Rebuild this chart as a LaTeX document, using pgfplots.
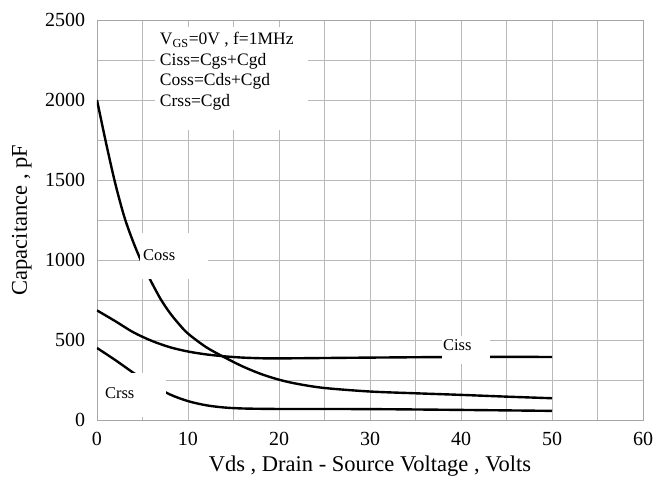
\documentclass[border=0pt]{standalone}
\usepackage{fontspec}
\setmainfont{Liberation Serif}
\usepackage{pgfplots}
\pgfplotsset{compat=1.18}

\begin{document}
\fontsize{20bp}{22bp}\selectfont
\begin{tikzpicture}
\path[use as bounding box] (-97bp,-73bp) rectangle (561bp,420bp);
\begin{axis}[
    scale only axis,
    width=546bp, height=400bp,
    at={(0,0)}, anchor=south west,
    xmin=0, xmax=60, ymin=0, ymax=2500,
    xtick={0,10,...,60}, minor xtick={5,15,...,55},
    ytick={0,500,...,2500}, minor ytick={250,750,...,2250},
    grid=both,
    grid style={gray!55, line width=0.6pt},
    minor grid style={gray!55, line width=0.6pt},
    axis line style={gray!70, line width=0.7pt},
    major tick length=0pt, minor tick length=0pt,
    /pgf/number format/1000 sep={},
    /pgf/number format/assume math mode=true,
    tick label style={font=\fontsize{20bp}{22bp}\selectfont},
    label style={font=\fontsize{22.5bp}{24bp}\selectfont},
    xticklabel style={yshift=-5bp},
    yticklabel style={xshift=-5bp},
    xlabel={Vds , Drain - Source Voltage , Volts},
    ylabel={Capacitance , pF},
    xlabel style={yshift=3bp},
    ylabel style={yshift=0bp},
]
% Coss
\addplot[black, line width=2.4pt, smooth, tension=0.5, no markers] coordinates {(0,2000)(1,1730)(2,1480)(3,1270)(4,1110)(5,975)(6,860)(7,755)(8,670)(9,600)(10,540)(12,455)(14,392)(16,335)(18,288)(20,252)(22,226)(25,200)(30,178)(35,167)(40,157)(45,146)(50,136)};
% Ciss
\addplot[black, line width=2.4pt, smooth, tension=0.5, no markers] coordinates {(0,685)(2,618)(4,548)(6,495)(8,455)(10,428)(12,410)(14,398)(16,390)(18,386)(20,385)(30,390)(40,394)(50,394)};
% Crss
\addplot[black, line width=2.4pt, smooth, tension=0.5, no markers] coordinates {(0,450)(2,375)(4,295)(6,222)(8,160)(10,118)(12,92)(14,78)(16,72)(18,70)(20,69)(30,68)(40,63)(50,57)};

\fill[white] (axis cs:6.4,2456) rectangle (axis cs:23.2,1812);
\node[anchor=north west, align=left, inner sep=0pt, font=\fontsize{17.5bp}{20.5bp}\selectfont]
  at (axis cs:6.9,2425) {V\textsubscript{GS}=0V , f=1MHz\\Ciss=Cgs+Cgd\\Coss=Cds+Cgd\\Crss=Cgd};

\fill[white] (axis cs:4.75,1169) rectangle (axis cs:12.2,880);
\node[anchor=west, inner sep=0pt, font=\fontsize{16.5bp}{18bp}\selectfont] at (axis cs:5.05,1031) {Coss};

\fill[white] (axis cs:37.9,525) rectangle (axis cs:43.2,350);
\node[inner sep=0pt, font=\fontsize{16.5bp}{18bp}\selectfont] at (axis cs:39.6,469) {Ciss};

\fill[white] (axis cs:0.15,19) rectangle (axis cs:7.6,295);
\node[inner sep=0pt, font=\fontsize{16.5bp}{18bp}\selectfont] at (axis cs:2.5,169) {Crss};
\end{axis}
\end{tikzpicture}
\end{document}
